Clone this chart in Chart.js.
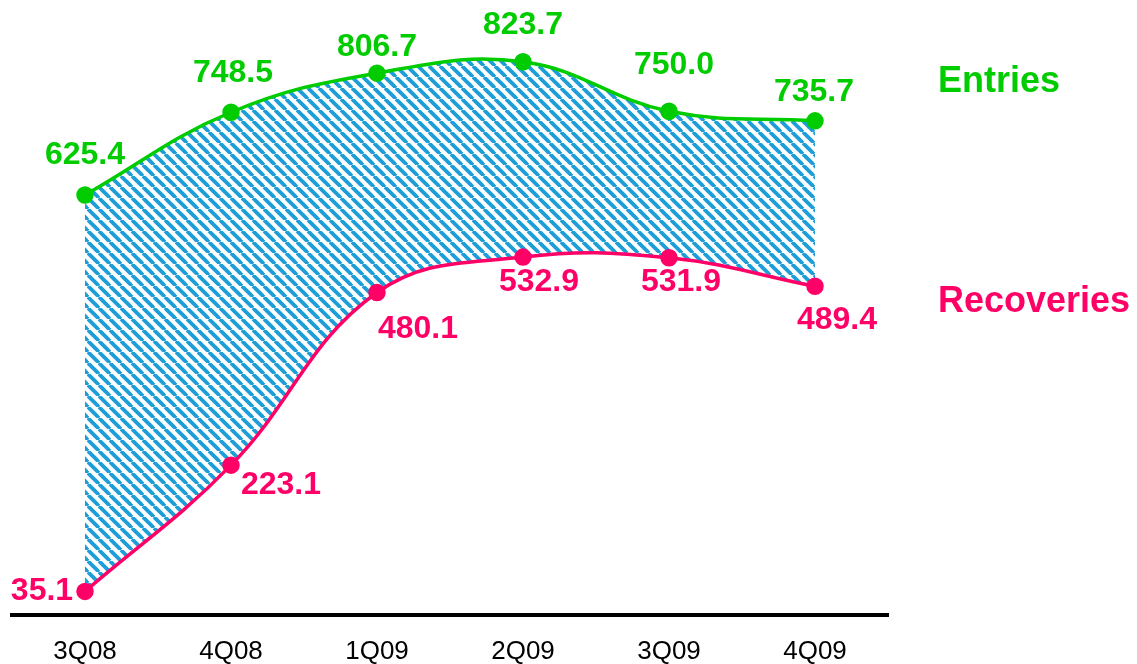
<!DOCTYPE html>
<html>
<head>
<meta charset="utf-8">
<script src="https://cdn.jsdelivr.net/npm/chart.js@4"></script>
<style>
    html, body { margin: 0; padding: 0; background: #fff; }
    #wrap { width: 1137px; height: 664px; position: relative; }
</style>
</head>
<body>
<div id="wrap"><canvas id="myChart"></canvas></div>
<script>
const quarters = ['3Q08', '4Q08', '1Q09', '2Q09', '3Q09', '4Q09'];
const entries = [625.4, 748.5, 806.7, 823.7, 750.0, 735.7];
const recoveries = [35.1, 223.1, 480.1, 532.9, 531.9, 489.4];

const green = '#00cc00';
const pink = '#ff0066';

// diagonal hatch for the gap between the two lines
function makeHatch() {
    const size = 11;
    const c = document.createElement('canvas');
    c.width = size;
    c.height = size;
    const ctx = c.getContext('2d');
    ctx.strokeStyle = '#1e9ed8';
    ctx.lineWidth = 3.8;
    [-size, 0, size].forEach(k => {
        ctx.beginPath();
        ctx.moveTo(k, 0);
        ctx.lineTo(k + size, size);
        ctx.stroke();
    });
    return document.getElementById('myChart').getContext('2d').createPattern(c, 'repeat');
}

// value labels next to each point
const valueLabels = {
    id: 'valueLabels',
    afterDatasetsDraw(chart, args, opts) {
        const ctx = chart.ctx;
        ctx.save();
        ctx.font = 'bold 32px "Liberation Sans", Arial, sans-serif';
        ctx.textAlign = 'center';
        ctx.textBaseline = 'middle';
        chart.data.datasets.forEach((ds, i) => {
            const meta = chart.getDatasetMeta(i);
            const offs = opts.offsets[i];
            ctx.fillStyle = ds.borderColor;
            meta.data.forEach((pt, j) => {
                ctx.fillText(ds.data[j].toFixed(1), pt.x + offs[j][0], pt.y + offs[j][1]);
            });
        });
        // series names on the right
        ctx.font = 'bold 36px "Liberation Sans", Arial, sans-serif';
        ctx.textAlign = 'left';
        chart.data.datasets.forEach((ds, i) => {
            ctx.fillStyle = ds.borderColor;
            ctx.fillText(ds.label, opts.namePos[i][0], opts.namePos[i][1]);
        });
        ctx.restore();
    }
};

new Chart(document.getElementById('myChart'), {
    type: 'line',
    data: {
        labels: quarters,
        datasets: [{
            label: 'Entries',
            data: entries,
            borderColor: green,
            backgroundColor: makeHatch(),
            pointBackgroundColor: green,
            pointBorderColor: green,
            borderWidth: 3.5,
            pointRadius: 7,
            tension: 0.4,
            fill: '+1'
        }, {
            label: 'Recoveries',
            data: recoveries,
            borderColor: pink,
            pointBackgroundColor: pink,
            pointBorderColor: pink,
            borderWidth: 3.5,
            pointRadius: 7,
            tension: 0.4,
            fill: false
        }]
    },
    options: {
        responsive: true,
        maintainAspectRatio: false,
        animation: false,
        layout: {
            padding: {left: 12, right: 249, top: 4, bottom: -25}
        },
        scales: {
            x: {
                offset: true,
                grid: {display: false, drawTicks: false},
                border: {display: true, color: '#000', width: 4},
                ticks: {
                    color: '#000',
                    padding: 24,
                    font: {family: '"Liberation Sans", Arial, sans-serif', size: 26, lineHeight: 1}
                }
            },
            y: {
                display: false,
                min: 0,
                max: 900
            }
        },
        plugins: {
            legend: {display: false},
            tooltip: {enabled: false},
            filler: {drawTime: 'beforeDatasetsDraw'},
            valueLabels: {
                offsets: [
                    [[0, -40], [2, -39], [0, -26], [0, -37], [5, -46], [-1, -29]],
                    [[-43, 0], [50, 20], [41, 37], [16, 25], [12, 24], [22, 34]]
                ],
                namePos: [[938, 82], [938, 302]]
            }
        }
    },
    plugins: [valueLabels]
});
</script>
</body>
</html>
